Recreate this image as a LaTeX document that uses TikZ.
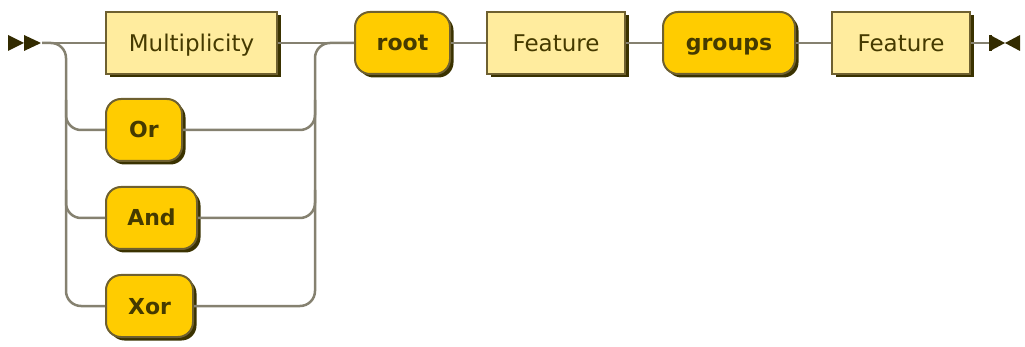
\documentclass[tikz,border=0pt]{standalone}
\usepackage{fontspec}
\setmainfont{DejaVu Sans}
\usetikzlibrary{shadows}
\definecolor{ntfill}{HTML}{FFEC9E}
\definecolor{tfill}{HTML}{FFCC00}
\definecolor{boxline}{HTML}{6E6030}
\definecolor{shadowc}{HTML}{3A3200}
\definecolor{wire}{HTML}{858170}
\definecolor{txt}{HTML}{453A00}
\definecolor{arrowc}{HTML}{332B00}
\tikzset{
  base/.style={draw=boxline, line width=2pt, minimum height=62pt, inner sep=0pt,
    text depth=0pt,
    text=txt, drop shadow={shadow xshift=3.5pt, shadow yshift=-3.5pt, fill=shadowc, opacity=1}},
  nt/.style={base, fill=ntfill, text height=16.8pt, font=\fontsize{23}{26}\selectfont},
  term/.style={base, fill=tfill, rounded corners=15pt, text height=16pt, font=\bfseries\fontsize{22}{26}\selectfont},
  wireline/.style={draw=wire, line width=2.5pt},
  curvy/.style={wireline, rounded corners=15pt},
}
\begin{document}
\begin{tikzpicture}[x=1pt,y=-1pt]
\useasboundingbox (0,0) rectangle (1025,347);
% nodes
\node[nt, minimum width=171pt] (mult) at (191.5,43) {Multiplicity};
\node[term, minimum width=76pt] (or) at (144,130) {Or};
\node[term, minimum width=91pt] (and) at (151.5,218) {And};
\node[term, minimum width=87pt] (xor) at (149.5,306) {Xor};
\node[term, minimum width=95pt] (root) at (402.5,43) {root};
\node[nt, minimum width=138pt] (feat1) at (556,43) {Feature};
\node[term, minimum width=132pt] (groups) at (729,43) {groups};
\node[nt, minimum width=138pt] (feat2) at (901,43) {Feature};
% junction coordinates
\coordinate (start) at (42,43);
\coordinate (lsplit) at (66,43);
\coordinate (rjoin) at (315,43);
\coordinate (endp) at (990,43);
% wires
\draw[wireline] (start) -- (mult.west);
\draw[curvy] (start) -- (lsplit) -- (lsplit |- xor.west) -- (xor.west);
\draw[curvy] (lsplit |- 0,100) -- (lsplit |- or.west) -- (or.west);
\draw[curvy] (lsplit |- 0,190) -- (lsplit |- and.west) -- (and.west);
\draw[wireline] (mult.east) -- (root.west);
\draw[curvy] (xor.east) -- (rjoin |- xor.east) -- (rjoin) -- (root.west);
\draw[curvy] (or.east) -- (rjoin |- or.east) -- (rjoin |- 0,100);
\draw[curvy] (and.east) -- (rjoin |- and.east) -- (rjoin |- 0,190);
\draw[wireline] (root.east) -- (feat1.west);
\draw[wireline] (feat1.east) -- (groups.west);
\draw[wireline] (groups.east) -- (feat2.west);
\draw[wireline] (feat2.east) -- (endp);
% start and end markers
\fill[arrowc] (8,35) -- (24,43) -- (8,51) -- cycle;
\fill[arrowc] (24,35) -- (41,43) -- (24,51) -- cycle;
\fill[arrowc] (990,35) -- (1005,43) -- (990,51) -- cycle;
\fill[arrowc] (1020,35) -- (1005,43) -- (1020,51) -- cycle;
\fill[arrowc] (989,35) rectangle (992,51);
\end{tikzpicture}
\end{document}
